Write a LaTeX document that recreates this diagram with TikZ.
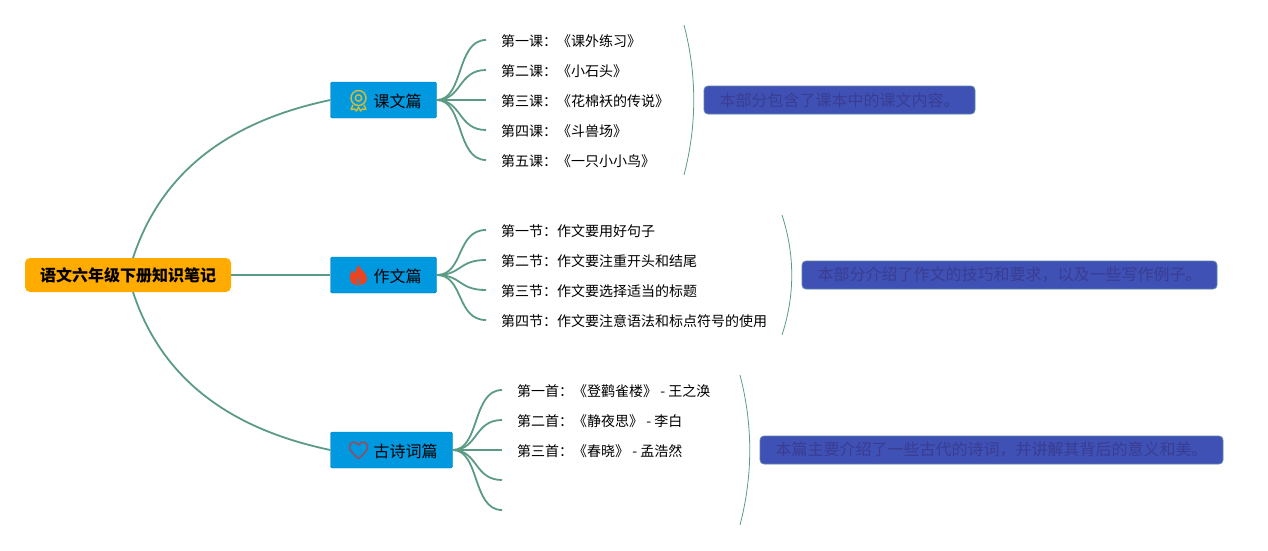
\documentclass[tikz,border=0pt]{standalone}
\usepackage{fontspec}
\setmainfont{Noto Sans CJK SC}
\definecolor{linegreen}{HTML}{5B9A85}
\definecolor{rootorange}{HTML}{FFAB00}
\definecolor{branchblue}{HTML}{0098DF}
\definecolor{noteblue}{HTML}{3F51B5}
\definecolor{noteedge}{HTML}{5F86A8}
\definecolor{notetext}{HTML}{3A3D92}
\definecolor{medalyellow}{HTML}{C9BC3E}
\definecolor{flamered}{HTML}{EC4320}
\definecolor{heartred}{HTML}{9A4A58}
\tikzset{
	rootnode/.style={fill=rootorange, rounded corners=5pt, minimum width=206pt, minimum height=34pt, inner sep=0pt, font=\fontsize{16}{18}\selectfont\bfseries},
	branchnode/.style={fill=branchblue, draw=branchblue!85!black, line width=0.4pt, rounded corners=1.5pt, minimum height=36pt, inner sep=0pt, text height=18pt, text depth=3pt, font=\fontsize{16}{18}\selectfont},
	leafnode/.style={anchor=west, inner xsep=15pt, inner ysep=0pt, text height=16pt, text depth=3pt, font=\fontsize{14}{16}\selectfont},
	notebox/.style={fill=noteblue, draw=noteedge, line width=0.8pt, rounded corners=4pt, minimum height=28pt, inner sep=0pt, text=notetext, font=\fontsize{16}{18}\selectfont},
	branchline/.style={draw=linegreen, line width=1.8pt},
	braceline/.style={draw=linegreen, line width=0.8pt}
}
\begin{document}
\begin{tikzpicture}[x=1pt,y=-1pt]
	\useasboundingbox (0,0) rectangle (1268,550);

	% root and branches
	\coordinate (rootup) at (133,258);
	\coordinate (rootdown) at (133,292);
	\node[rootnode] (root) at (128,275) {语文六年级下册知识笔记};
	\node[branchnode, minimum width=106pt] (kewen) at (383.5,100) {\hspace*{28pt}课文篇};
	\node[branchnode, minimum width=106pt] (zuowen) at (383.5,275) {\hspace*{28pt}作文篇};
	\node[branchnode, minimum width=122pt] (gushi) at (391.5,450) {\hspace*{28pt}古诗词篇};

	\draw[branchline] (rootup) .. controls (165,160) and (245,118) .. (kewen.west);
	\draw[branchline] (root.east) -- (zuowen.west);
	\draw[branchline] (rootdown) .. controls (165,390) and (245,432) .. (gushi.west);

	% lessons
	\node[leafnode] (ke1) at (486,40) {第一课：《课外练习》};
	\node[leafnode] (ke2) at (486,70) {第二课：《小石头》};
	\node[leafnode] (ke3) at (486,100) {第三课：《花棉袄的传说》};
	\node[leafnode] (ke4) at (486,130) {第四课：《斗兽场》};
	\node[leafnode] (ke5) at (486,160) {第五课：《一只小小鸟》};
	\draw[branchline] (kewen.east) .. controls (464,100) and (456,40) .. (ke1.west);
	\draw[branchline] (kewen.east) .. controls (462,100) and (458,70) .. (ke2.west);
	\draw[branchline] (kewen.east) -- (ke3.west);
	\draw[branchline] (kewen.east) .. controls (462,100) and (458,130) .. (ke4.west);
	\draw[branchline] (kewen.east) .. controls (464,100) and (456,160) .. (ke5.west);

	% essays
	\node[leafnode] (zuo1) at (486,230) {第一节：作文要用好句子};
	\node[leafnode] (zuo2) at (486,260) {第二节：作文要注重开头和结尾};
	\node[leafnode] (zuo3) at (486,290) {第三节：作文要选择适当的标题};
	\node[leafnode] (zuo4) at (486,320) {第四节：作文要注意语法和标点符号的使用};
	\draw[branchline] (zuowen.east) .. controls (464,275) and (456,230) .. (zuo1.west);
	\draw[branchline] (zuowen.east) .. controls (462,275) and (458,260) .. (zuo2.west);
	\draw[branchline] (zuowen.east) .. controls (462,275) and (458,290) .. (zuo3.west);
	\draw[branchline] (zuowen.east) .. controls (464,275) and (456,320) .. (zuo4.west);

	% poems
	\node[leafnode] (shi1) at (502,390) {第一首：《登鹳雀楼》 - 王之涣};
	\node[leafnode] (shi2) at (502,420) {第二首：《静夜思》 - 李白};
	\node[leafnode] (shi3) at (502,450) {第三首：《春晓》 - 孟浩然};
	\coordinate (shi4) at (502,480);
	\coordinate (shi5) at (502,510);
	\draw[branchline] (gushi.east) .. controls (480,450) and (472,390) .. (shi1.west);
	\draw[branchline] (gushi.east) .. controls (478,450) and (474,420) .. (shi2.west);
	\draw[branchline] (gushi.east) -- (shi3.west);
	\draw[branchline] (gushi.east) .. controls (478,450) and (474,480) .. (shi4);
	\draw[branchline] (gushi.east) .. controls (480,450) and (472,510) .. (shi5);

	% summary brackets
	\draw[braceline] (684,25) .. controls (697,75) and (697,125) .. (684,175);
	\draw[braceline] (782,215) .. controls (795,255) and (795,295) .. (782,335);
	\draw[braceline] (740,375) .. controls (753,425) and (753,475) .. (740,525);

	% notes
	\node[notebox, minimum width=271pt] (note1) at (839.5,100) {本部分包含了课本中的课文内容。};
	\node[notebox, minimum width=415pt] (note2) at (1009.5,275) {本部分介绍了作文的技巧和要求，以及一些写作例子。};
	\node[notebox, minimum width=463pt] (note3) at (991.5,450) {本篇主要介绍了一些古代的诗词，并讲解其背后的意义和美。};

	% icons
	\draw[draw=medalyellow, line width=1.5pt, line join=round] (353,105) -- (351,109.5) -- (354.5,109) -- (356.5,111) -- (358.5,107) -- (360.5,111) -- (362.5,109) -- (366,109.5) -- (364,105);
	\draw[draw=medalyellow, fill=branchblue, line width=1.5pt] (358.5,98) circle [radius=7.5];
	\draw[draw=medalyellow, line width=1.5pt] (358.5,98) circle [radius=3.2];
	\fill[flamered] (358.5,265) .. controls (360,270) and (367,272) .. (367,279) .. controls (367,283) and (363,285) .. (358.5,285) .. controls (353,285) and (350,283) .. (350,278) .. controls (350,274) and (351,272) .. (352,270) .. controls (353,272) and (354,273) .. (355,273) .. controls (356,271) and (356,268) .. (358.5,265);
	\fill[branchblue!35!flamered] (358.5,277) .. controls (360,279) and (362,281) .. (361,283) .. controls (360,285) and (357,285) .. (356,283) .. controls (355,281) and (357,279) .. (358.5,277);
	\draw[draw=heartred, line width=1.5pt, line join=round] (358.5,458.5) .. controls (352,453) and (349.5,450) .. (349.5,447) .. controls (349.5,441) and (356,440.5) .. (358.5,445) .. controls (361,440.5) and (367.5,441) .. (367.5,447) .. controls (367.5,450) and (365,453) .. (358.5,458.5);
\end{tikzpicture}
\end{document}
